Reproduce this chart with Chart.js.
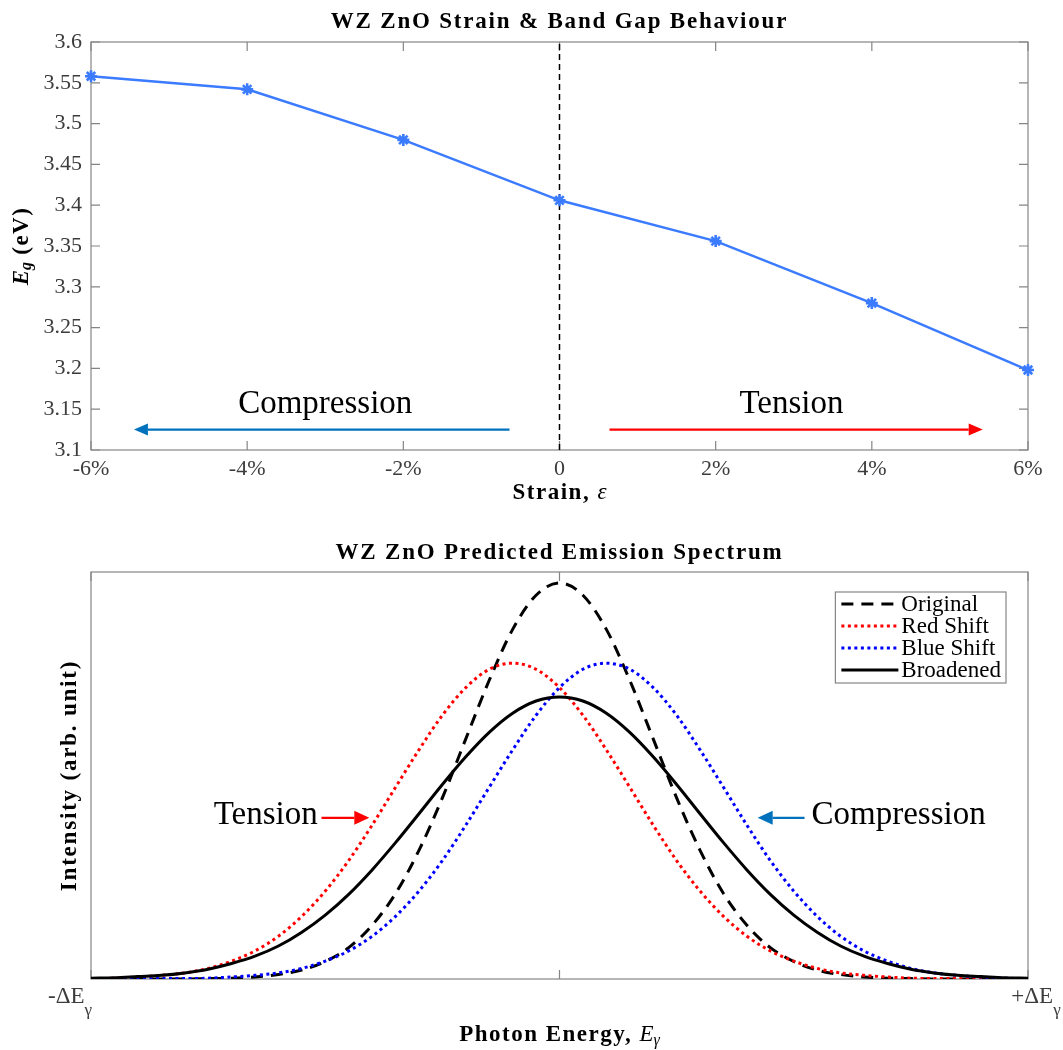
<!DOCTYPE html>
<html>
<head>
<meta charset="utf-8">
<script src="https://cdn.jsdelivr.net/npm/chart.js@4.4.1/dist/chart.umd.min.js"></script>
<style>
  body { margin: 0; background: #fff; }
  #wrap { position: relative; width: 1063px; height: 1050px; }
  canvas { position: absolute; left: 0; }
  #strainChart { top: 0; }
  #spectrumChart { top: 520px; }
</style>
</head>
<body>
<div id="wrap">
  <canvas id="strainChart" width="1063" height="520"></canvas>
  <canvas id="spectrumChart" width="1063" height="530"></canvas>
</div>
<script>
// --- data: strain vs band gap ---
const strainPct = [-6, -4, -2, 0, 2, 4, 6];
const bandGapEv = [3.558, 3.542, 3.480, 3.406, 3.356, 3.280, 3.198];
const strainTickValues = [-6, -4, -2, 0, 2, 4, 6];
const strainTickLabels = ['-6%', '-4%', '-2%', '0', '2%', '4%', '6%'];
const gapTickValues = [3.1, 3.15, 3.2, 3.25, 3.3, 3.35, 3.4, 3.45, 3.5, 3.55, 3.6];
const gapTickLabels = ['3.1', '3.15', '3.2', '3.25', '3.3', '3.35', '3.4', '3.45', '3.5', '3.55', '3.6'];

// --- data: emission spectrum (normalised energy, arb. intensity) ---
const photonEnergy = [-1, -0.95, -0.9, -0.85, -0.8, -0.75, -0.7, -0.65, -0.6, -0.55, -0.5, -0.45, -0.4, -0.35, -0.3, -0.25, -0.2, -0.15, -0.1, -0.05, 0,
  0.05, 0.1, 0.15, 0.2, 0.25, 0.3, 0.35, 0.4, 0.45, 0.5, 0.55, 0.6, 0.65, 0.7, 0.75, 0.8, 0.85, 0.9, 0.95, 1];
const originalI = [0, 0, 0, 0, 0, 0.001, 0.002, 0.005, 0.011, 0.022, 0.043, 0.077, 0.132, 0.210, 0.316, 0.445, 0.590, 0.734, 0.859, 0.943, 0.973,
  0.943, 0.859, 0.734, 0.590, 0.445, 0.316, 0.210, 0.132, 0.077, 0.043, 0.022, 0.011, 0.005, 0.002, 0.001, 0, 0, 0, 0, 0];
const redShiftI = [0.001, 0.002, 0.005, 0.009, 0.015, 0.026, 0.044, 0.069, 0.105, 0.154, 0.216, 0.291, 0.378, 0.471, 0.563, 0.648, 0.716, 0.761, 0.776, 0.761, 0.716,
  0.648, 0.563, 0.471, 0.378, 0.291, 0.216, 0.154, 0.105, 0.069, 0.044, 0.026, 0.015, 0.009, 0.005, 0.002, 0.001, 0.001, 0, 0, 0];
const blueShiftI = [0, 0, 0, 0.001, 0.001, 0.002, 0.005, 0.009, 0.015, 0.026, 0.044, 0.069, 0.105, 0.154, 0.216, 0.291, 0.378, 0.471, 0.563, 0.648, 0.716,
  0.761, 0.776, 0.761, 0.716, 0.648, 0.563, 0.471, 0.378, 0.291, 0.216, 0.154, 0.105, 0.069, 0.044, 0.026, 0.015, 0.009, 0.005, 0.002, 0.001];
const broadenedI = [0.002, 0.003, 0.006, 0.009, 0.015, 0.024, 0.038, 0.056, 0.081, 0.115, 0.157, 0.208, 0.268, 0.335, 0.406, 0.478, 0.546, 0.606, 0.653, 0.683, 0.693,
  0.683, 0.653, 0.606, 0.546, 0.478, 0.406, 0.335, 0.268, 0.208, 0.157, 0.115, 0.081, 0.056, 0.038, 0.024, 0.015, 0.009, 0.006, 0.003, 0.002];
const energyTickValues = [-1, 0, 1];
const intensityRange = [0, 1];

const SERIF = '"Liberation Serif", "Times New Roman", serif';
const AXIS_GREY = '#858585';
const TICK_TEXT = '#3c3c3c';

// draws a row of text pieces (different fonts / sub-scripts) as one label
function drawRuns(ctx, runs, x, y, align) {
  let total = 0;
  runs.forEach(r => {
    ctx.font = r.font;
    ctx.letterSpacing = r.spacing || '0px';
    r.w = ctx.measureText(r.text).width;
    total += r.w;
  });
  let cx = align === 'center' ? x - total / 2 : align === 'right' ? x - total : x;
  runs.forEach(r => {
    ctx.font = r.font;
    ctx.letterSpacing = r.spacing || '0px';
    ctx.fillText(r.text, cx, y + (r.dy || 0));
    cx += r.w;
  });
  ctx.letterSpacing = '0px';
}

function arrow(ctx, x1, y1, x2, y2, color, lw, head, half) {
  const a = Math.atan2(y2 - y1, x2 - x1);
  const bx = x2 - head * Math.cos(a), by = y2 - head * Math.sin(a);
  ctx.strokeStyle = color;
  ctx.fillStyle = color;
  ctx.lineWidth = lw;
  ctx.beginPath(); ctx.moveTo(x1, y1); ctx.lineTo(bx, by); ctx.stroke();
  ctx.beginPath();
  ctx.moveTo(x2, y2);
  ctx.lineTo(bx + half * Math.sin(a), by - half * Math.cos(a));
  ctx.lineTo(bx - half * Math.sin(a), by + half * Math.cos(a));
  ctx.closePath(); ctx.fill();
}

// MATLAB-like box with inward ticks
const framePlugin = {
  id: 'frame',
  beforeDatasetsDraw(chart, args, opts) {
    const { ctx, chartArea: a, scales } = chart;
    const L = 9;
    ctx.save();
    ctx.strokeStyle = AXIS_GREY;
    ctx.lineWidth = 1.2;
    ctx.strokeRect(a.left, a.top, a.right - a.left, a.bottom - a.top);
    ctx.beginPath();
    (opts.xTicks || []).forEach(v => {
      const px = scales.x.getPixelForValue(v);
      ctx.moveTo(px, a.bottom); ctx.lineTo(px, a.bottom - L);
      ctx.moveTo(px, a.top); ctx.lineTo(px, a.top + L);
    });
    (opts.yTicks || []).forEach(v => {
      const py = scales.y.getPixelForValue(v);
      ctx.moveTo(a.left, py); ctx.lineTo(a.left + L, py);
      ctx.moveTo(a.right, py); ctx.lineTo(a.right - L, py);
    });
    ctx.stroke();
    ctx.restore();
  }
};

// --- 1. strain vs band gap ---
const strainDecor = {
  id: 'strainDecor',
  afterDatasetsDraw(chart) {
    const { ctx, chartArea: a, scales: { x, y } } = chart;
    ctx.save();
    ctx.fillStyle = '#000';
    ctx.textBaseline = 'middle';
    drawRuns(ctx, [{ text: 'WZ ZnO Strain & Band Gap Behaviour', font: 'bold 23px ' + SERIF, spacing: '1.8px' }], (a.left + a.right) / 2, 22, 'center');
    drawRuns(ctx, [
      { text: 'Strain, ', font: 'bold 23px ' + SERIF, spacing: '1.5px' },
      { text: 'ε', font: 'italic 23px ' + SERIF }
    ], (a.left + a.right) / 2, 493, 'center');

    ctx.save();
    ctx.translate(22, (a.top + a.bottom) / 2);
    ctx.rotate(-Math.PI / 2);
    drawRuns(ctx, [
      { text: 'E', font: 'italic bold 23px ' + SERIF },
      { text: 'g', font: 'italic bold 16px ' + SERIF, dy: 5 },
      { text: ' (eV)', font: 'bold 23px ' + SERIF, spacing: '1.5px' }
    ], 0, 0, 'center');
    ctx.restore();

    // compression / tension arrows
    ctx.fillStyle = '#000';
    ctx.font = '33px ' + SERIF;
    ctx.textAlign = 'center';
    ctx.fillText('Compression', x.getPixelForValue(-3.0), y.getPixelForValue(3.156));
    ctx.fillText('Tension', x.getPixelForValue(2.97), y.getPixelForValue(3.156));
    arrow(ctx, x.getPixelForValue(-0.64), y.getPixelForValue(3.125), x.getPixelForValue(-5.45), y.getPixelForValue(3.125), '#0072BD', 2.2, 14, 6);
    arrow(ctx, x.getPixelForValue(0.64), y.getPixelForValue(3.125), x.getPixelForValue(5.42), y.getPixelForValue(3.125), '#FF0000', 2.2, 14, 6);
    ctx.restore();
  }
};

new Chart(document.getElementById('strainChart'), {
  type: 'line',
  data: {
    datasets: [
      {
        data: strainPct.map((s, i) => ({ x: s, y: bandGapEv[i] })),
        borderColor: '#3b7bff',
        borderWidth: 2.5,
        pointStyle: 'star',
        pointRadius: 6,
        pointBorderWidth: 2.6,
        pointBorderColor: '#3b7bff',
        pointBackgroundColor: '#3b7bff',
        clip: false,
        order: 0
      },
      {
        data: [{ x: 0, y: gapTickValues[0] }, { x: 0, y: gapTickValues[gapTickValues.length - 1] }],
        borderColor: '#000',
        borderWidth: 1.5,
        borderDash: [6, 4],
        pointRadius: 0,
        order: 1
      }
    ]
  },
  options: {
    responsive: false,
    animation: false,
    layout: { padding: { top: 42, right: 35, left: 0, bottom: 0 } },
    plugins: {
      legend: { display: false },
      tooltip: { enabled: false },
      frame: { xTicks: strainTickValues, yTicks: gapTickValues }
    },
    scales: {
      x: {
        type: 'linear', min: -6, max: 6,
        grid: { display: false, drawTicks: false },
        border: { display: false },
        afterBuildTicks: s => { s.ticks = strainTickValues.map(v => ({ value: v })); },
        ticks: { callback: (v, i) => strainTickLabels[i], font: { family: SERIF, size: 22 }, color: TICK_TEXT, padding: 6, maxRotation: 0, autoSkip: false },
        afterFit: s => { s.height = 70; }
      },
      y: {
        type: 'linear', min: 3.1, max: 3.6,
        grid: { display: false, drawTicks: false },
        border: { display: false },
        afterBuildTicks: s => { s.ticks = gapTickValues.map(v => ({ value: v })); },
        ticks: { callback: (v, i) => gapTickLabels[i], font: { family: SERIF, size: 22 }, color: TICK_TEXT, padding: 9, autoSkip: false },
        afterFit: s => { s.width = 91; }
      }
    }
  },
  plugins: [framePlugin, strainDecor]
});

// --- 2. predicted emission spectrum ---
const spectrumDecor = {
  id: 'spectrumDecor',
  afterDatasetsDraw(chart) {
    const { ctx, chartArea: a, scales: { x, y } } = chart;
    ctx.save();
    ctx.fillStyle = '#000';
    ctx.textBaseline = 'middle';
    drawRuns(ctx, [{ text: 'WZ ZnO Predicted Emission Spectrum', font: 'bold 23px ' + SERIF, spacing: '1.8px' }], (a.left + a.right) / 2, 33, 'center');

    // x tick labels
    ctx.fillStyle = TICK_TEXT;
    const tickFont = '23px ' + SERIF;
    const subFont = '17px ' + SERIF;
    drawRuns(ctx, [{ text: '-ΔE', font: tickFont }, { text: 'γ', font: subFont, dy: 14 }], x.getPixelForValue(energyTickValues[0]) - 21, 477, 'center');
    drawRuns(ctx, [{ text: '+ΔE', font: tickFont }, { text: 'γ', font: subFont, dy: 14 }], x.getPixelForValue(energyTickValues[2]) + 8, 477, 'center');

    ctx.fillStyle = '#000';
    drawRuns(ctx, [
      { text: 'Photon Energy, ', font: 'bold 23px ' + SERIF, spacing: '1.5px' },
      { text: 'E', font: 'italic 23px ' + SERIF },
      { text: 'γ', font: 'italic 16px ' + SERIF, dy: 6 }
    ], (a.left + a.right) / 2, 515, 'center');

    ctx.save();
    ctx.translate(70, (a.top + a.bottom) / 2);
    ctx.rotate(-Math.PI / 2);
    drawRuns(ctx, [{ text: 'Intensity (arb. unit)', font: 'bold 23px ' + SERIF, spacing: '1.8px' }], 0, 0, 'center');
    ctx.restore();

    // annotations
    ctx.font = '33px ' + SERIF;
    ctx.textAlign = 'right';
    ctx.fillText('Tension', x.getPixelForValue(-0.516), y.getPixelForValue(0.403));
    ctx.textAlign = 'left';
    ctx.fillText('Compression', x.getPixelForValue(0.538), y.getPixelForValue(0.403));
    arrow(ctx, x.getPixelForValue(-0.508), y.getPixelForValue(0.396), x.getPixelForValue(-0.406), y.getPixelForValue(0.396), '#FF0000', 2.2, 15, 7);
    arrow(ctx, x.getPixelForValue(0.523), y.getPixelForValue(0.396), x.getPixelForValue(0.423), y.getPixelForValue(0.396), '#0072BD', 2.2, 15, 7);

    // legend box
    ctx.font = '23px ' + SERIF;
    const sets = chart.data.datasets;
    const textW = Math.max(...sets.map(d => ctx.measureText(d.label).width));
    const boxW = 66 + textW + 5, boxH = 91, rowH = 22;
    const bx = a.right - 22 - boxW, by = a.top + 20;
    ctx.fillStyle = '#fff';
    ctx.fillRect(bx, by, boxW, boxH);
    ctx.strokeStyle = AXIS_GREY;
    ctx.lineWidth = 1.2;
    ctx.strokeRect(bx, by, boxW, boxH);
    sets.forEach((d, i) => {
      const ry = by + 12 + i * rowH;
      ctx.strokeStyle = d.borderColor;
      ctx.lineWidth = d.borderWidth;
      ctx.setLineDash(d.borderDash || []);
      ctx.beginPath(); ctx.moveTo(bx + 6, ry); ctx.lineTo(bx + 63, ry); ctx.stroke();
      ctx.setLineDash([]);
      ctx.fillStyle = '#000';
      ctx.textAlign = 'left';
      ctx.fillText(d.label, bx + 66, ry + 1);
    });
    ctx.restore();
  }
};

const curve = vals => photonEnergy.map((e, i) => ({ x: e, y: vals[i] }));

new Chart(document.getElementById('spectrumChart'), {
  type: 'line',
  data: {
    datasets: [
      { label: 'Original', data: curve(originalI), borderColor: '#000', borderWidth: 3, borderDash: [12, 8], order: 4 },
      { label: 'Red Shift', data: curve(redShiftI), borderColor: '#ff0000', borderWidth: 3, borderDash: [3, 3.5], order: 3 },
      { label: 'Blue Shift', data: curve(blueShiftI), borderColor: '#0000ff', borderWidth: 3, borderDash: [3, 3.5], order: 2 },
      { label: 'Broadened', data: curve(broadenedI), borderColor: '#000', borderWidth: 3, order: 1 }
    ]
  },
  options: {
    responsive: false,
    animation: false,
    layout: { padding: { top: 52, right: 35, left: 0, bottom: 0 } },
    elements: { point: { radius: 0 }, line: { cubicInterpolationMode: 'monotone' } },
    plugins: {
      legend: { display: false },
      tooltip: { enabled: false },
      frame: { xTicks: energyTickValues, yTicks: [] }
    },
    scales: {
      x: {
        type: 'linear', min: energyTickValues[0], max: energyTickValues[2],
        grid: { display: false, drawTicks: false },
        border: { display: false },
        ticks: { display: false },
        afterFit: s => { s.height = 71; }
      },
      y: {
        type: 'linear', min: intensityRange[0], max: intensityRange[1],
        grid: { display: false, drawTicks: false },
        border: { display: false },
        ticks: { display: false },
        afterFit: s => { s.width = 91; }
      }
    }
  },
  plugins: [framePlugin, spectrumDecor]
});
</script>
</body>
</html>
